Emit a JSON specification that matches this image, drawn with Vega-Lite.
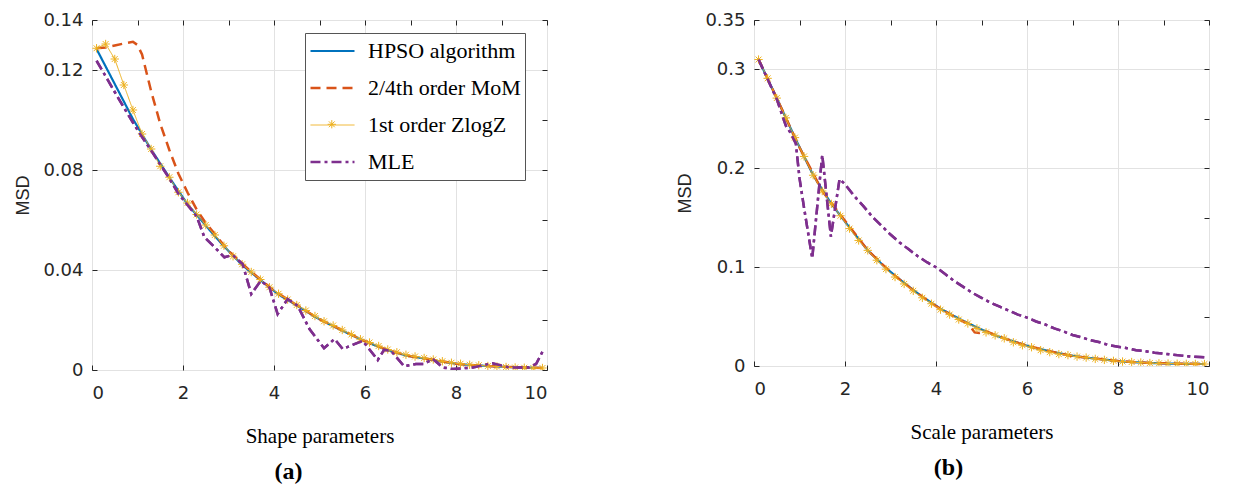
{
"$schema": "https://vega.github.io/schema/vega-lite/v6.json",
"background": "white",
"padding": {"left": 14, "top": 10, "right": 5, "bottom": 2},
"bounds": "flush",
"spacing": 207,
"config": {
  "view": {"stroke": "#262626", "strokeWidth": 1},
  "axis": {"grid": true, "gridColor": "#e2e2e2", "domain": false, "tickColor": "#262626", "tickSize": -5, "labelFont": "DejaVu Sans", "labelFontSize": 18, "labelColor": "#262626", "titleFontWeight": "normal"},
  "axisX": {"labelPadding": 19, "titleFont": "Liberation Serif", "titleFontSize": 21, "titleColor": "#000000", "titlePadding": 23},
  "axisY": {"labelPadding": 14, "titleFont": "Liberation Sans", "titleFontSize": 18, "titleColor": "#262626", "titlePadding": 10},
  "title": {"font": "Liberation Serif", "fontSize": 24, "fontWeight": "bold", "color": "#000000", "orient": "bottom", "anchor": "middle"}
},
"resolve": {"scale": {"color": "independent", "strokeDash": "independent", "strokeWidth": "independent", "shape": "independent"}},
"datasets": {
"shape": [
{"x":0.1,"y":0.1284,"series":"HPSO algorithm"},{"x":0.5,"y":0.1144,"series":"HPSO algorithm"},{"x":0.9,"y":0.1004,"series":"HPSO algorithm"},{"x":1.3,"y":0.0882,"series":"HPSO algorithm"},{"x":1.7,"y":0.0770,"series":"HPSO algorithm"},{"x":2.1,"y":0.0663,"series":"HPSO algorithm"},{"x":2.5,"y":0.0578,"series":"HPSO algorithm"},{"x":2.9,"y":0.0495,"series":"HPSO algorithm"},{"x":3.3,"y":0.0420,"series":"HPSO algorithm"},{"x":3.7,"y":0.0360,"series":"HPSO algorithm"},{"x":4.1,"y":0.0302,"series":"HPSO algorithm"},{"x":4.5,"y":0.0258,"series":"HPSO algorithm"},{"x":4.9,"y":0.0213,"series":"HPSO algorithm"},{"x":5.3,"y":0.0175,"series":"HPSO algorithm"},{"x":5.7,"y":0.0140,"series":"HPSO algorithm"},{"x":6.1,"y":0.0107,"series":"HPSO algorithm"},{"x":6.5,"y":0.0079,"series":"HPSO algorithm"},{"x":6.9,"y":0.0058,"series":"HPSO algorithm"},{"x":7.3,"y":0.0046,"series":"HPSO algorithm"},{"x":7.7,"y":0.0033,"series":"HPSO algorithm"},{"x":8.1,"y":0.0023,"series":"HPSO algorithm"},{"x":8.5,"y":0.0018,"series":"HPSO algorithm"},{"x":8.9,"y":0.0014,"series":"HPSO algorithm"},{"x":9.3,"y":0.0011,"series":"HPSO algorithm"},{"x":9.9,"y":0.0008,"series":"HPSO algorithm"},
{"x":0.1,"y":0.1287,"series":"2/4th order MoM"},{"x":0.3,"y":0.1290,"series":"2/4th order MoM"},{"x":0.5,"y":0.1298,"series":"2/4th order MoM"},{"x":0.7,"y":0.1306,"series":"2/4th order MoM"},{"x":0.9,"y":0.1313,"series":"2/4th order MoM"},{"x":1.0,"y":0.1300,"series":"2/4th order MoM"},{"x":1.1,"y":0.1262,"series":"2/4th order MoM"},{"x":1.3,"y":0.1115,"series":"2/4th order MoM"},{"x":1.5,"y":0.0985,"series":"2/4th order MoM"},{"x":1.7,"y":0.0880,"series":"2/4th order MoM"},{"x":1.9,"y":0.0785,"series":"2/4th order MoM"},{"x":2.1,"y":0.0710,"series":"2/4th order MoM"},{"x":2.3,"y":0.0642,"series":"2/4th order MoM"},{"x":2.5,"y":0.0588,"series":"2/4th order MoM"},{"x":3.0,"y":0.0476,"series":"2/4th order MoM"},{"x":3.5,"y":0.0393,"series":"2/4th order MoM"},{"x":4.0,"y":0.0317,"series":"2/4th order MoM"},{"x":4.5,"y":0.0260,"series":"2/4th order MoM"},{"x":5.0,"y":0.0203,"series":"2/4th order MoM"},{"x":5.5,"y":0.0159,"series":"2/4th order MoM"},{"x":6.0,"y":0.0115,"series":"2/4th order MoM"},{"x":6.5,"y":0.0080,"series":"2/4th order MoM"},{"x":7.0,"y":0.0055,"series":"2/4th order MoM"},{"x":7.5,"y":0.0041,"series":"2/4th order MoM"},{"x":8.0,"y":0.0025,"series":"2/4th order MoM"},{"x":8.5,"y":0.0018,"series":"2/4th order MoM"},{"x":9.0,"y":0.0013,"series":"2/4th order MoM"},{"x":9.5,"y":0.0010,"series":"2/4th order MoM"},{"x":9.9,"y":0.0008,"series":"2/4th order MoM"},
{"x":0.1,"y":0.1287,"series":"1st order ZlogZ"},{"x":0.3,"y":0.1304,"series":"1st order ZlogZ"},{"x":0.5,"y":0.1244,"series":"1st order ZlogZ"},{"x":0.7,"y":0.1140,"series":"1st order ZlogZ"},{"x":0.9,"y":0.1040,"series":"1st order ZlogZ"},{"x":1.1,"y":0.0944,"series":"1st order ZlogZ"},{"x":1.3,"y":0.0884,"series":"1st order ZlogZ"},{"x":1.5,"y":0.0815,"series":"1st order ZlogZ"},{"x":1.7,"y":0.0771,"series":"1st order ZlogZ"},{"x":1.9,"y":0.0711,"series":"1st order ZlogZ"},{"x":2.1,"y":0.0668,"series":"1st order ZlogZ"},{"x":2.3,"y":0.0622,"series":"1st order ZlogZ"},{"x":2.5,"y":0.0580,"series":"1st order ZlogZ"},{"x":2.7,"y":0.0540,"series":"1st order ZlogZ"},{"x":2.9,"y":0.0497,"series":"1st order ZlogZ"},{"x":3.1,"y":0.0455,"series":"1st order ZlogZ"},{"x":3.3,"y":0.0423,"series":"1st order ZlogZ"},{"x":3.5,"y":0.0392,"series":"1st order ZlogZ"},{"x":3.7,"y":0.0362,"series":"1st order ZlogZ"},{"x":3.9,"y":0.0331,"series":"1st order ZlogZ"},{"x":4.1,"y":0.0305,"series":"1st order ZlogZ"},{"x":4.3,"y":0.0282,"series":"1st order ZlogZ"},{"x":4.5,"y":0.0260,"series":"1st order ZlogZ"},{"x":4.7,"y":0.0238,"series":"1st order ZlogZ"},{"x":4.9,"y":0.0216,"series":"1st order ZlogZ"},{"x":5.1,"y":0.0195,"series":"1st order ZlogZ"},{"x":5.3,"y":0.0178,"series":"1st order ZlogZ"},{"x":5.5,"y":0.0160,"series":"1st order ZlogZ"},{"x":5.7,"y":0.0142,"series":"1st order ZlogZ"},{"x":5.9,"y":0.0123,"series":"1st order ZlogZ"},{"x":6.1,"y":0.0110,"series":"1st order ZlogZ"},{"x":6.3,"y":0.0096,"series":"1st order ZlogZ"},{"x":6.5,"y":0.0082,"series":"1st order ZlogZ"},{"x":6.7,"y":0.0071,"series":"1st order ZlogZ"},{"x":6.9,"y":0.0061,"series":"1st order ZlogZ"},{"x":7.1,"y":0.0054,"series":"1st order ZlogZ"},{"x":7.3,"y":0.0048,"series":"1st order ZlogZ"},{"x":7.5,"y":0.0042,"series":"1st order ZlogZ"},{"x":7.7,"y":0.0035,"series":"1st order ZlogZ"},{"x":7.9,"y":0.0029,"series":"1st order ZlogZ"},{"x":8.1,"y":0.0025,"series":"1st order ZlogZ"},{"x":8.3,"y":0.0021,"series":"1st order ZlogZ"},{"x":8.5,"y":0.0019,"series":"1st order ZlogZ"},{"x":8.7,"y":0.0016,"series":"1st order ZlogZ"},{"x":8.9,"y":0.0014,"series":"1st order ZlogZ"},{"x":9.1,"y":0.0012,"series":"1st order ZlogZ"},{"x":9.3,"y":0.0010,"series":"1st order ZlogZ"},{"x":9.5,"y":0.0009,"series":"1st order ZlogZ"},{"x":9.7,"y":0.0008,"series":"1st order ZlogZ"},{"x":9.9,"y":0.0008,"series":"1st order ZlogZ"},
{"x":0.1,"y":0.1237,"series":"MLE"},{"x":0.3,"y":0.1175,"series":"MLE"},{"x":0.5,"y":0.1112,"series":"MLE"},{"x":0.7,"y":0.1050,"series":"MLE"},{"x":0.9,"y":0.0990,"series":"MLE"},{"x":1.1,"y":0.0932,"series":"MLE"},{"x":1.3,"y":0.0878,"series":"MLE"},{"x":1.5,"y":0.0822,"series":"MLE"},{"x":1.7,"y":0.0766,"series":"MLE"},{"x":1.9,"y":0.0705,"series":"MLE"},{"x":2.1,"y":0.0660,"series":"MLE"},{"x":2.3,"y":0.0615,"series":"MLE"},{"x":2.47,"y":0.0531,"series":"MLE"},{"x":2.7,"y":0.0490,"series":"MLE"},{"x":2.91,"y":0.0451,"series":"MLE"},{"x":3.09,"y":0.0460,"series":"MLE"},{"x":3.31,"y":0.0424,"series":"MLE"},{"x":3.5,"y":0.0304,"series":"MLE"},{"x":3.71,"y":0.0357,"series":"MLE"},{"x":3.9,"y":0.0330,"series":"MLE"},{"x":4.08,"y":0.0224,"series":"MLE"},{"x":4.3,"y":0.0284,"series":"MLE"},{"x":4.52,"y":0.0257,"series":"MLE"},{"x":4.78,"y":0.0164,"series":"MLE"},{"x":5.1,"y":0.0087,"series":"MLE"},{"x":5.33,"y":0.0124,"series":"MLE"},{"x":5.51,"y":0.0084,"series":"MLE"},{"x":5.95,"y":0.0117,"series":"MLE"},{"x":6.28,"y":0.0040,"series":"MLE"},{"x":6.42,"y":0.0081,"series":"MLE"},{"x":6.57,"y":0.0077,"series":"MLE"},{"x":6.86,"y":0.0015,"series":"MLE"},{"x":7.12,"y":0.0024,"series":"MLE"},{"x":7.3,"y":0.0024,"series":"MLE"},{"x":7.49,"y":0.0044,"series":"MLE"},{"x":7.71,"y":0.0010,"series":"MLE"},{"x":7.93,"y":0.0004,"series":"MLE"},{"x":8.37,"y":0.0010,"series":"MLE"},{"x":8.8,"y":0.0027,"series":"MLE"},{"x":9.17,"y":0.0010,"series":"MLE"},{"x":9.6,"y":0.0010,"series":"MLE"},{"x":9.76,"y":0.0024,"series":"MLE"},{"x":9.9,"y":0.0073,"series":"MLE"}
],
"scale": [
{"x":0.1,"y":0.310,"series":"HPSO algorithm"},{"x":0.5,"y":0.271,"series":"HPSO algorithm"},{"x":0.9,"y":0.231,"series":"HPSO algorithm"},{"x":1.3,"y":0.193,"series":"HPSO algorithm"},{"x":1.7,"y":0.164,"series":"HPSO algorithm"},{"x":2.1,"y":0.140,"series":"HPSO algorithm"},{"x":2.5,"y":0.117,"series":"HPSO algorithm"},{"x":2.9,"y":0.099,"series":"HPSO algorithm"},{"x":3.3,"y":0.084,"series":"HPSO algorithm"},{"x":3.7,"y":0.070,"series":"HPSO algorithm"},{"x":4.1,"y":0.058,"series":"HPSO algorithm"},{"x":4.5,"y":0.048,"series":"HPSO algorithm"},{"x":4.9,"y":0.039,"series":"HPSO algorithm"},{"x":5.3,"y":0.031,"series":"HPSO algorithm"},{"x":5.7,"y":0.025,"series":"HPSO algorithm"},{"x":6.1,"y":0.019,"series":"HPSO algorithm"},{"x":6.5,"y":0.015,"series":"HPSO algorithm"},{"x":6.9,"y":0.011,"series":"HPSO algorithm"},{"x":7.3,"y":0.0085,"series":"HPSO algorithm"},{"x":7.7,"y":0.0065,"series":"HPSO algorithm"},{"x":8.1,"y":0.0045,"series":"HPSO algorithm"},{"x":8.5,"y":0.0035,"series":"HPSO algorithm"},{"x":8.9,"y":0.0027,"series":"HPSO algorithm"},{"x":9.3,"y":0.0023,"series":"HPSO algorithm"},{"x":9.9,"y":0.0020,"series":"HPSO algorithm"},
{"x":0.1,"y":0.310,"series":"2/4th order MoM"},{"x":0.5,"y":0.271,"series":"2/4th order MoM"},{"x":1.0,"y":0.221,"series":"2/4th order MoM"},{"x":1.5,"y":0.177,"series":"2/4th order MoM"},{"x":2.0,"y":0.147,"series":"2/4th order MoM"},{"x":2.5,"y":0.117,"series":"2/4th order MoM"},{"x":3.0,"y":0.095,"series":"2/4th order MoM"},{"x":3.5,"y":0.0765,"series":"2/4th order MoM"},{"x":4.0,"y":0.0605,"series":"2/4th order MoM"},{"x":4.5,"y":0.047,"series":"2/4th order MoM"},{"x":4.7,"y":0.043,"series":"2/4th order MoM"},{"x":4.85,"y":0.034,"series":"2/4th order MoM"},{"x":4.95,"y":0.0335,"series":"2/4th order MoM"},{"x":5.1,"y":0.035,"series":"2/4th order MoM"},{"x":5.5,"y":0.028,"series":"2/4th order MoM"},{"x":6.0,"y":0.0205,"series":"2/4th order MoM"},{"x":6.5,"y":0.015,"series":"2/4th order MoM"},{"x":7.0,"y":0.010,"series":"2/4th order MoM"},{"x":7.5,"y":0.0075,"series":"2/4th order MoM"},{"x":8.0,"y":0.005,"series":"2/4th order MoM"},{"x":8.5,"y":0.0035,"series":"2/4th order MoM"},{"x":9.0,"y":0.0027,"series":"2/4th order MoM"},{"x":9.5,"y":0.0022,"series":"2/4th order MoM"},{"x":9.9,"y":0.0020,"series":"2/4th order MoM"},
{"x":0.1,"y":0.310,"series":"1st order ZlogZ"},{"x":0.3,"y":0.291,"series":"1st order ZlogZ"},{"x":0.5,"y":0.271,"series":"1st order ZlogZ"},{"x":0.7,"y":0.251,"series":"1st order ZlogZ"},{"x":0.9,"y":0.231,"series":"1st order ZlogZ"},{"x":1.1,"y":0.212,"series":"1st order ZlogZ"},{"x":1.3,"y":0.193,"series":"1st order ZlogZ"},{"x":1.5,"y":0.177,"series":"1st order ZlogZ"},{"x":1.7,"y":0.164,"series":"1st order ZlogZ"},{"x":1.9,"y":0.152,"series":"1st order ZlogZ"},{"x":2.1,"y":0.139,"series":"1st order ZlogZ"},{"x":2.3,"y":0.127,"series":"1st order ZlogZ"},{"x":2.5,"y":0.117,"series":"1st order ZlogZ"},{"x":2.7,"y":0.107,"series":"1st order ZlogZ"},{"x":2.9,"y":0.098,"series":"1st order ZlogZ"},{"x":3.1,"y":0.090,"series":"1st order ZlogZ"},{"x":3.3,"y":0.083,"series":"1st order ZlogZ"},{"x":3.5,"y":0.076,"series":"1st order ZlogZ"},{"x":3.7,"y":0.069,"series":"1st order ZlogZ"},{"x":3.9,"y":0.063,"series":"1st order ZlogZ"},{"x":4.1,"y":0.057,"series":"1st order ZlogZ"},{"x":4.3,"y":0.052,"series":"1st order ZlogZ"},{"x":4.5,"y":0.047,"series":"1st order ZlogZ"},{"x":4.7,"y":0.043,"series":"1st order ZlogZ"},{"x":4.9,"y":0.038,"series":"1st order ZlogZ"},{"x":5.1,"y":0.034,"series":"1st order ZlogZ"},{"x":5.3,"y":0.031,"series":"1st order ZlogZ"},{"x":5.5,"y":0.028,"series":"1st order ZlogZ"},{"x":5.7,"y":0.024,"series":"1st order ZlogZ"},{"x":5.9,"y":0.021,"series":"1st order ZlogZ"},{"x":6.1,"y":0.019,"series":"1st order ZlogZ"},{"x":6.3,"y":0.016,"series":"1st order ZlogZ"},{"x":6.5,"y":0.014,"series":"1st order ZlogZ"},{"x":6.7,"y":0.012,"series":"1st order ZlogZ"},{"x":6.9,"y":0.011,"series":"1st order ZlogZ"},{"x":7.1,"y":0.0095,"series":"1st order ZlogZ"},{"x":7.3,"y":0.0085,"series":"1st order ZlogZ"},{"x":7.5,"y":0.0072,"series":"1st order ZlogZ"},{"x":7.7,"y":0.0062,"series":"1st order ZlogZ"},{"x":7.9,"y":0.0052,"series":"1st order ZlogZ"},{"x":8.1,"y":0.0045,"series":"1st order ZlogZ"},{"x":8.3,"y":0.0040,"series":"1st order ZlogZ"},{"x":8.5,"y":0.0035,"series":"1st order ZlogZ"},{"x":8.7,"y":0.0030,"series":"1st order ZlogZ"},{"x":8.9,"y":0.0027,"series":"1st order ZlogZ"},{"x":9.1,"y":0.0025,"series":"1st order ZlogZ"},{"x":9.3,"y":0.0023,"series":"1st order ZlogZ"},{"x":9.5,"y":0.0022,"series":"1st order ZlogZ"},{"x":9.7,"y":0.0021,"series":"1st order ZlogZ"},{"x":9.9,"y":0.0020,"series":"1st order ZlogZ"},
{"x":0.1,"y":0.310,"series":"MLE"},{"x":0.3,"y":0.290,"series":"MLE"},{"x":0.5,"y":0.270,"series":"MLE"},{"x":0.7,"y":0.243,"series":"MLE"},{"x":0.8,"y":0.236,"series":"MLE"},{"x":0.92,"y":0.225,"series":"MLE"},{"x":1.0,"y":0.190,"series":"MLE"},{"x":1.1,"y":0.160,"series":"MLE"},{"x":1.28,"y":0.109,"series":"MLE"},{"x":1.5,"y":0.2136,"series":"MLE"},{"x":1.69,"y":0.131,"series":"MLE"},{"x":1.88,"y":0.189,"series":"MLE"},{"x":2.0,"y":0.184,"series":"MLE"},{"x":2.2,"y":0.172,"series":"MLE"},{"x":2.4,"y":0.162,"series":"MLE"},{"x":2.6,"y":0.151,"series":"MLE"},{"x":2.8,"y":0.142,"series":"MLE"},{"x":3.0,"y":0.133,"series":"MLE"},{"x":3.2,"y":0.125,"series":"MLE"},{"x":3.4,"y":0.118,"series":"MLE"},{"x":3.6,"y":0.111,"series":"MLE"},{"x":3.8,"y":0.105,"series":"MLE"},{"x":4.0,"y":0.0999,"series":"MLE"},{"x":4.2,"y":0.093,"series":"MLE"},{"x":4.4,"y":0.086,"series":"MLE"},{"x":4.6,"y":0.080,"series":"MLE"},{"x":4.8,"y":0.074,"series":"MLE"},{"x":5.0,"y":0.069,"series":"MLE"},{"x":5.2,"y":0.064,"series":"MLE"},{"x":5.4,"y":0.060,"series":"MLE"},{"x":5.6,"y":0.056,"series":"MLE"},{"x":5.8,"y":0.052,"series":"MLE"},{"x":6.0,"y":0.049,"series":"MLE"},{"x":6.2,"y":0.045,"series":"MLE"},{"x":6.4,"y":0.042,"series":"MLE"},{"x":6.6,"y":0.038,"series":"MLE"},{"x":6.8,"y":0.035,"series":"MLE"},{"x":7.0,"y":0.0314,"series":"MLE"},{"x":7.2,"y":0.029,"series":"MLE"},{"x":7.4,"y":0.026,"series":"MLE"},{"x":7.6,"y":0.024,"series":"MLE"},{"x":7.8,"y":0.021,"series":"MLE"},{"x":8.0,"y":0.0195,"series":"MLE"},{"x":8.2,"y":0.018,"series":"MLE"},{"x":8.4,"y":0.016,"series":"MLE"},{"x":8.6,"y":0.015,"series":"MLE"},{"x":8.8,"y":0.0135,"series":"MLE"},{"x":9.0,"y":0.0125,"series":"MLE"},{"x":9.2,"y":0.0115,"series":"MLE"},{"x":9.4,"y":0.0105,"series":"MLE"},{"x":9.6,"y":0.0095,"series":"MLE"},{"x":9.8,"y":0.0090,"series":"MLE"},{"x":9.9,"y":0.0088,"series":"MLE"}
]
},
"hconcat": [
{
  "width": 455, "height": 350,
  "title": {"text": "(a)", "dx": -31, "offset": 14},
  "data": {"name": "shape"},
  "resolve": {"axis": {"x": "independent", "y": "independent"}},
  "layer": [
    {
      "mark": {"type": "line", "clip": true},
      "encoding": {
        "x": {"field": "x", "type": "quantitative", "scale": {"domain": [0, 10], "nice": false}, "axis": {"orient": "bottom", "values": [0, 2, 4, 6, 8, 10], "title": "Shape parameters"}},
        "y": {"field": "y", "type": "quantitative", "scale": {"domain": [0, 0.14], "nice": false, "zero": false}, "axis": {"orient": "left", "values": [0, 0.04, 0.08, 0.12, 0.14], "format": ".2~f", "title": "MSD"}},
        "color": {"field": "series", "type": "nominal",
          "scale": {"domain": ["HPSO algorithm", "2/4th order MoM", "1st order ZlogZ", "MLE"], "range": ["#0072BD", "#D95319", "#EDB120", "#7E2F8E"]},
          "legend": {"orient": "none", "legendX": 213, "legendY": 13, "title": null, "symbolType": "stroke", "symbolSize": 1936, "clipHeight": 28, "rowPadding": 9, "padding": 4, "labelOffset": 12, "labelFont": "Liberation Serif", "labelFontSize": 22, "labelColor": "#000000", "strokeColor": "#555555", "fillColor": "white", "cornerRadius": 0, "labelLimit": 400, "labelExpr": "datum.label + '\u00a0\u00a0'"}},
        "strokeDash": {"field": "series", "type": "nominal", "scale": {"domain": ["HPSO algorithm", "2/4th order MoM", "1st order ZlogZ", "MLE"], "range": [[1, 0], [10, 6], [1, 0], [10, 4, 3, 4]]}},
        "strokeWidth": {"field": "series", "type": "nominal", "scale": {"type": "ordinal", "domain": ["HPSO algorithm", "2/4th order MoM", "1st order ZlogZ", "MLE"], "range": [2.2, 2.5, 1, 2.5]}}
      }
    },
    {
      "transform": [{"filter": "datum.series === '1st order ZlogZ'"}],
      "mark": {"type": "point", "filled": false, "color": "#EDB120", "strokeWidth": 1, "size": 70, "opacity": 1, "clip": true},
      "encoding": {
        "x": {"field": "x", "type": "quantitative", "axis": {"orient": "top", "labels": false, "title": null, "grid": false}},
        "y": {"field": "y", "type": "quantitative", "axis": {"orient": "right", "labels": false, "title": null, "grid": false}},
        "shape": {"field": "series", "type": "nominal", "scale": {"domain": ["1st order ZlogZ"], "range": ["M-1,0L1,0M0,-1L0,1M-0.7,-0.7L0.7,0.7M-0.7,0.7L0.7,-0.7"]},
          "legend": {"orient": "none", "legendX": 234.8, "legendY": 99.8, "title": null, "symbolSize": 70, "padding": 0, "labelExpr": "''", "labelFontSize": 1, "symbolStrokeColor": "#EDB120", "symbolStrokeWidth": 1, "symbolFillColor": "transparent", "clipHeight": 9}}
      }
    },
    {
      "transform": [{"filter": "datum.series === 'MLE'"}],
      "mark": {"type": "line", "clip": true},
      "encoding": {
        "x": {"field": "x", "type": "quantitative", "axis": null},
        "y": {"field": "y", "type": "quantitative", "axis": null},
        "color": {"field": "series", "type": "nominal", "scale": {"domain": ["HPSO algorithm", "2/4th order MoM", "1st order ZlogZ", "MLE"], "range": ["#0072BD", "#D95319", "#EDB120", "#7E2F8E"]}},
        "strokeDash": {"field": "series", "type": "nominal", "scale": {"domain": ["HPSO algorithm", "2/4th order MoM", "1st order ZlogZ", "MLE"], "range": [[1, 0], [10, 6], [1, 0], [10, 4, 3, 4]]}},
        "strokeWidth": {"field": "series", "type": "nominal", "scale": {"type": "ordinal", "domain": ["HPSO algorithm", "2/4th order MoM", "1st order ZlogZ", "MLE"], "range": [2.2, 2.5, 1, 2.5]}}
      }
    }
  ]
},
{
  "width": 455, "height": 346,
  "title": {"text": "(b)", "dx": -33, "offset": 14},
  "data": {"name": "scale"},
  "resolve": {"axis": {"x": "independent", "y": "independent"}},
  "layer": [
    {
      "mark": {"type": "line", "clip": true},
      "encoding": {
        "x": {"field": "x", "type": "quantitative", "scale": {"domain": [0, 10], "nice": false}, "axis": {"orient": "bottom", "values": [0, 2, 4, 6, 8, 10], "title": "Scale parameters"}},
        "y": {"field": "y", "type": "quantitative", "scale": {"domain": [0, 0.35], "nice": false, "zero": false}, "axis": {"orient": "left", "values": [0, 0.1, 0.2, 0.3, 0.35], "format": ".2~f", "title": "MSD"}},
        "color": {"field": "series", "type": "nominal", "scale": {"domain": ["HPSO algorithm", "2/4th order MoM", "1st order ZlogZ", "MLE"], "range": ["#0072BD", "#D95319", "#EDB120", "#7E2F8E"]}, "legend": null},
        "strokeDash": {"field": "series", "type": "nominal", "scale": {"domain": ["HPSO algorithm", "2/4th order MoM", "1st order ZlogZ", "MLE"], "range": [[1, 0], [10, 6], [1, 0], [10, 4, 3, 4]]}, "legend": null},
        "strokeWidth": {"field": "series", "type": "nominal", "scale": {"type": "ordinal", "domain": ["HPSO algorithm", "2/4th order MoM", "1st order ZlogZ", "MLE"], "range": [2.2, 2.5, 1, 2.5]}, "legend": null}
      }
    },
    {
      "transform": [{"filter": "datum.series === '1st order ZlogZ'"}],
      "mark": {"type": "point", "filled": false, "color": "#EDB120", "strokeWidth": 1, "size": 70, "opacity": 1, "clip": true},
      "encoding": {
        "x": {"field": "x", "type": "quantitative", "axis": {"orient": "top", "labels": false, "title": null, "grid": false}},
        "y": {"field": "y", "type": "quantitative", "axis": {"orient": "right", "labels": false, "title": null, "grid": false}},
        "shape": {"field": "series", "type": "nominal", "scale": {"domain": ["1st order ZlogZ"], "range": ["M-1,0L1,0M0,-1L0,1M-0.7,-0.7L0.7,0.7M-0.7,0.7L0.7,-0.7"]}, "legend": null}
      }
    },
    {
      "transform": [{"filter": "datum.series === 'MLE'"}],
      "mark": {"type": "line", "clip": true},
      "encoding": {
        "x": {"field": "x", "type": "quantitative", "axis": null},
        "y": {"field": "y", "type": "quantitative", "axis": null},
        "color": {"field": "series", "type": "nominal", "scale": {"domain": ["HPSO algorithm", "2/4th order MoM", "1st order ZlogZ", "MLE"], "range": ["#0072BD", "#D95319", "#EDB120", "#7E2F8E"]}, "legend": null},
        "strokeDash": {"field": "series", "type": "nominal", "scale": {"domain": ["HPSO algorithm", "2/4th order MoM", "1st order ZlogZ", "MLE"], "range": [[1, 0], [10, 6], [1, 0], [10, 4, 3, 4]]}, "legend": null},
        "strokeWidth": {"field": "series", "type": "nominal", "scale": {"type": "ordinal", "domain": ["HPSO algorithm", "2/4th order MoM", "1st order ZlogZ", "MLE"], "range": [2.2, 2.5, 1, 2.5]}, "legend": null}
      }
    }
  ]
}
]
}
